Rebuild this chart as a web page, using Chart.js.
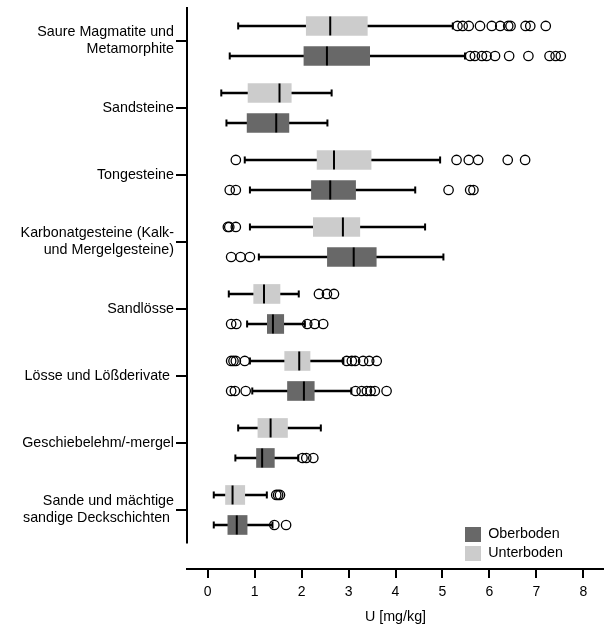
<!DOCTYPE html>
<html><head><meta charset="utf-8">
<script src="https://cdn.jsdelivr.net/npm/chart.js@4"></script>
<style>html,body{margin:0;padding:0;background:#fff}#wrap{width:604px;height:626px}</style>
</head><body><div id="wrap"><canvas id="c" width="604" height="626"></canvas></div>
<script>
// ---------- data ----------
const categories = [
  "Saure Magmatite und\nMetamorphite",
  "Sandsteine",
  "Tongesteine",
  "Karbonatgesteine (Kalk-\nund Mergelgesteine)",
  "Sandlösse",
  "Lösse und Lößderivate ",
  "Geschiebelehm/-mergel",
  "Sande und mächtige\nsandige Deckschichten "
];
const seriesNames = ["Oberboden", "Unterboden"];
const xTickValues = [0, 1, 2, 3, 4, 5, 6, 7, 8];
const xAxisTitle = "U [mg/kg]";

// Oberboden (topsoil)
const oberMin = [0.47, 0.40, 0.90, 1.09, 0.84, 0.95, 0.59, 0.13];
const oberQ1  = [2.05, 0.84, 2.21, 2.55, 1.27, 1.70, 1.04, 0.43];
const oberMed = [2.54, 1.46, 2.61, 3.11, 1.39, 2.05, 1.16, 0.62];
const oberQ3  = [3.45, 1.73, 3.15, 3.59, 1.62, 2.27, 1.42, 0.84];
const oberMax = [5.48, 2.55, 4.42, 5.02, 2.07, 3.06, 1.93, 1.38];
const oberOutliers = [
  [5.59, 5.69, 5.84, 5.94, 6.12, 6.42, 6.83, 7.28, 7.41, 7.52],
  [],
  [0.47, 0.60, 5.13, 5.59, 5.66],
  [0.50, 0.70, 0.90],
  [0.50, 0.61, 2.12, 2.28, 2.46],
  [0.50, 0.58, 0.81, 3.15, 3.28, 3.39, 3.47, 3.56, 3.81],
  [2.02, 2.10, 2.25],
  [1.42, 1.67]
];

// Unterboden (subsoil)
const unterMin = [0.65, 0.29, 0.79, 0.90, 0.45, 0.90, 0.65, 0.13];
const unterQ1  = [2.10, 0.86, 2.33, 2.25, 0.98, 1.64, 1.07, 0.38];
const unterMed = [2.61, 1.53, 2.69, 2.88, 1.20, 1.95, 1.34, 0.53];
const unterQ3  = [3.40, 1.78, 3.48, 3.24, 1.54, 2.18, 1.70, 0.79];
const unterMax = [5.22, 2.64, 4.95, 4.63, 1.94, 2.89, 2.41, 1.26];
const unterOutliers = [
  [5.32, 5.43, 5.56, 5.80, 6.05, 6.23, 6.40, 6.45, 6.77, 6.87, 7.20],
  [],
  [0.60, 5.30, 5.56, 5.76, 6.39, 6.76],
  [0.43, 0.46, 0.60],
  [2.37, 2.54, 2.69],
  [0.50, 0.55, 0.60, 0.79, 2.96, 3.07, 3.14, 3.31, 3.44, 3.60],
  [],
  [1.46, 1.50, 1.54]
];

// ---------- layout constants ----------
const X_MIN = -0.44, X_MAX = 8.44;
const Y_MIN = -0.507, Y_MAX = 7.881, Y_AXIS_END = 7.5;
const GROUP_OFFSET = 0.224;

const groups = [
  { name: seriesNames[0], color: '#686868', off: GROUP_OFFSET,
    min: oberMin, q1: oberQ1, med: oberMed, q3: oberQ3, max: oberMax, out: oberOutliers },
  { name: seriesNames[1], color: '#cccccc', off: -GROUP_OFFSET,
    min: unterMin, q1: unterQ1, med: unterMed, q3: unterQ3, max: unterMax, out: unterOutliers }
];

const datasets = [];
groups.forEach(g => {
  const yOf = i => i + g.off;
  datasets.push({
    type: 'bar', label: g.name, indexAxis: 'y', xAxisID: 'x', yAxisID: 'y',
    data: categories.map((_, i) => ({ x: [g.q1[i], g.q3[i]], y: yOf(i) })),
    backgroundColor: g.color, borderWidth: 0, barThickness: 19, grouped: false, order: 3
  });
});
groups.forEach(g => {
  const yOf = i => i + g.off;
  datasets.push({
    type: 'bar', label: '_whisker', indexAxis: 'y', xAxisID: 'x', yAxisID: 'y',
    data: categories.map((_, i) => ({ x: [g.min[i], g.max[i]], y: yOf(i) })),
    backgroundColor: '#000', borderWidth: 0, barThickness: 2, grouped: false, order: 5
  });
  datasets.push({
    type: 'scatter', label: '_cap', xAxisID: 'x', yAxisID: 'y',
    data: categories.flatMap((_, i) => [{ x: g.min[i], y: yOf(i) }, { x: g.max[i], y: yOf(i) }]),
    pointStyle: 'line', pointRotation: 90, pointRadius: 3.5, pointHoverRadius: 3.5,
    pointBorderWidth: 2, pointBorderColor: '#000', borderColor: '#000', order: 4
  });
  datasets.push({
    type: 'scatter', label: '_median', xAxisID: 'x', yAxisID: 'y',
    data: categories.map((_, i) => ({ x: g.med[i], y: yOf(i) })),
    pointStyle: 'line', pointRotation: 90, pointRadius: 9.5, pointHoverRadius: 9.5,
    pointBorderWidth: 2, pointBorderColor: '#000', borderColor: '#000', order: 2
  });
  datasets.push({
    type: 'scatter', label: '_outlier', xAxisID: 'x', yAxisID: 'y',
    data: categories.flatMap((_, i) => g.out[i].map(v => ({ x: v, y: yOf(i) }))),
    pointStyle: 'circle', pointRadius: 4.7, pointHoverRadius: 4.7,
    pointBorderWidth: 1.3, pointBorderColor: '#000', borderColor: '#000',
    pointBackgroundColor: 'rgba(0,0,0,0)', backgroundColor: 'rgba(0,0,0,0)', order: 1
  });
});
// vertical category axis line (ends above the value axis, as in the original)
datasets.push({
  type: 'line', label: '_axis', xAxisID: 'x', yAxisID: 'y',
  data: [{ x: X_MIN, y: Y_MIN }, { x: X_MIN, y: Y_AXIS_END }],
  borderColor: '#000', borderWidth: 2, pointRadius: 0, clip: false, order: 0
});

const legendPlacer = {
  id: 'legendPlacer',
  afterLayout(chart) {
    const lg = chart.legend, ca = chart.chartArea;
    if (!lg) return;
    lg.left = ca.right - 143;
    lg.right = ca.right;
    lg.top = ca.bottom - 46;
    lg.bottom = ca.bottom;
  }
};

Chart.defaults.font.family = "'Liberation Sans', Arial, sans-serif";
Chart.defaults.font.size = 14;
Chart.defaults.color = '#000';

new Chart(document.getElementById('c'), {
  type: 'scatter',
  data: { datasets },
  plugins: [legendPlacer],
  options: {
    responsive: false,
    maintainAspectRatio: false,
    devicePixelRatio: 1,
    animation: false,
    events: [],
    layout: { autoPadding: false, padding: { top: 7, left: 0, right: 0, bottom: 0 } },
    plugins: {
      tooltip: { enabled: false },
      legend: {
        position: 'chartArea',
        align: 'start',
        labels: {
          boxWidth: 16, boxHeight: 15, padding: 4, color: '#000',
          font: { size: 14.3 },
          filter: item => seriesNames.includes(item.text)
        }
      }
    },
    scales: {
      x: {
        type: 'linear', position: 'bottom', min: X_MIN, max: X_MAX, offset: false,
        afterBuildTicks: s => { s.ticks = xTickValues.map(v => ({ value: v })); },
        afterFit: s => { s.height = 57; s.paddingLeft = 0; s.paddingRight = 0; },
        ticks: { autoSkip: false, padding: 6, color: '#000', font: { size: 14 },
                 callback: v => String(v) },
        grid: { drawOnChartArea: false, drawTicks: true, tickLength: 9, color: '#000', lineWidth: 2, offset: false },
        border: { display: true, color: '#000', width: 2 },
        title: { display: true, text: xAxisTitle, color: '#000', font: { size: 14.3 }, padding: { top: 0, bottom: 0 } }
      },
      y: {
        type: 'linear', position: 'left', reverse: true, min: Y_MIN, max: Y_MAX, offset: false,
        afterBuildTicks: s => { s.ticks = categories.map((_, i) => ({ value: i })); },
        afterFit: s => { s.width = 187; s.paddingTop = 0; s.paddingBottom = 0; },
        ticks: { autoSkip: false, padding: 2, color: '#000', font: { size: 14.3 },
                 callback: v => { const c = categories[Math.round(v)]; return c === undefined ? '' : c.split('\n'); } },
        grid: { drawOnChartArea: false, drawTicks: true, tickLength: 11, color: '#000', lineWidth: 2, offset: false },
        border: { display: false }
      }
    }
  }
});
</script>
</body></html>
